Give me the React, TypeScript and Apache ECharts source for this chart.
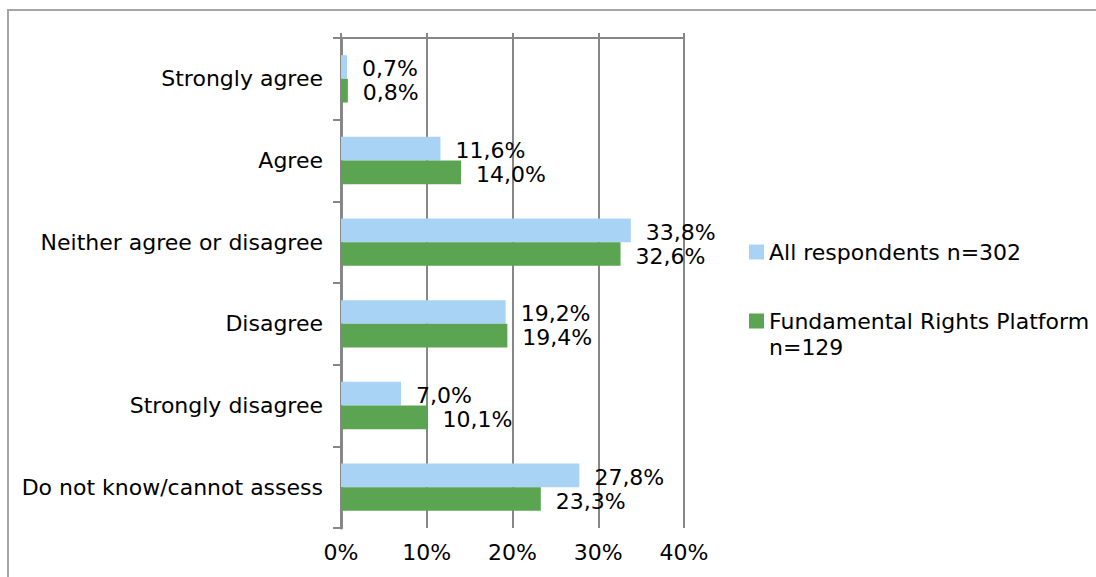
import React, { useEffect, useRef } from "react";
import * as echarts from "echarts";

const categories = [
  "Strongly agree",
  "Agree",
  "Neither agree or disagree",
  "Disagree",
  "Strongly disagree",
  "Do not know/cannot assess",
];
const seriesNames = ["All respondents n=302", "Fundamental Rights Platform n=129"];
const allRespondents = [0.7, 11.6, 33.8, 19.2, 7.0, 27.8];
const frpRespondents = [0.8, 14.0, 32.6, 19.4, 10.1, 23.3];
const xTicks = [0, 10, 20, 30, 40];

const FONT = "DejaVu Sans";
const GRAY = "#878787";

export default function App() {
  const ref = useRef<HTMLDivElement>(null);
  useEffect(() => {
    if (!ref.current) return;
    const chart = echarts.init(ref.current, null, { renderer: "svg" });
    const fmt = (v: number) => v.toFixed(1).replace(".", ",") + "%";
    const label = {
      show: true,
      position: "right" as const,
      distance: 15,
      offset: [0, 2],
      fontFamily: FONT,
      fontSize: 22,
      color: "#000",
      formatter: (p: any) => fmt(p.value),
    };
    const legendBase = {
      orient: "vertical" as const,
      left: 744,
      itemWidth: 15,
      itemHeight: 15,
      icon: "rect",
      selectedMode: false,
    };
    chart.setOption({
      animation: false,
      backgroundColor: "#fff",
      textStyle: { fontFamily: FONT },
      graphic: [
        {
          type: "rect",
          shape: { x: 8, y: 10, width: 1300, height: 800 },
          style: { fill: "none", stroke: "#A5A5A5", lineWidth: 2 },
          silent: true,
        },
      ],
      grid: { left: 341, right: 412, top: 38, bottom: 49, containLabel: false },
      legend: [
        {
          ...legendBase,
          top: 234,
          data: [seriesNames[0]],
          textStyle: { fontFamily: FONT, fontSize: 22, color: "#000", lineHeight: 26 },
        },
        {
          ...legendBase,
          top: 277,
          data: [seriesNames[1]],
          textStyle: {
            fontFamily: FONT,
            fontSize: 22,
            color: "#000",
            lineHeight: 26,
          },
          formatter: () => " \nFundamental Rights Platform\nn=129",
        },
      ],
      xAxis: [
        {
          type: "value",
          position: "top",
          min: 0,
          max: 40,
          interval: 10,
          axisLine: { show: true, lineStyle: { color: GRAY, width: 2 } },
          axisTick: { show: true, length: 5, inside: false, lineStyle: { color: GRAY, width: 2 } },
          axisLabel: { show: false },
          splitLine: { show: true, lineStyle: { color: GRAY, width: 2 } },
        },
        {
          type: "value",
          position: "bottom",
          min: 0,
          max: 40,
          interval: 10,
          axisLine: { show: false },
          axisTick: { show: false },
          splitLine: { show: false },
          axisLabel: {
            show: true,
            margin: 13,
            fontFamily: FONT,
            fontSize: 22,
            color: "#000",
            formatter: (v: number) => (xTicks.includes(v) ? v + "%" : ""),
          },
        },
      ],
      yAxis: {
        type: "category",
        inverse: true,
        data: categories,
        axisLine: { show: true, lineStyle: { color: GRAY, width: 3 } },
        axisTick: { show: true, length: 8, lineStyle: { color: GRAY, width: 2 } },
        axisLabel: {
          margin: 18,
          fontFamily: FONT,
          fontSize: 22,
          color: "#000",
        },
        splitLine: { show: false },
      },
      series: [
        {
          name: seriesNames[0],
          type: "bar",
          xAxisIndex: 0,
          data: allRespondents,
          barGap: "0%",
          barCategoryGap: "42%",
          itemStyle: { color: "#A9D3F5" },
          label,
        },
        {
          name: seriesNames[1],
          type: "bar",
          xAxisIndex: 0,
          data: frpRespondents,
          barGap: "0%",
          barCategoryGap: "42%",
          itemStyle: { color: "#5BA552" },
          label,
        },
      ],
    });
    return () => chart.dispose();
  }, []);
  return (
    <div
      ref={ref}
      style={{ position: "fixed", left: 0, top: 0, width: 1096, height: 577 }}
    />
  );
}
